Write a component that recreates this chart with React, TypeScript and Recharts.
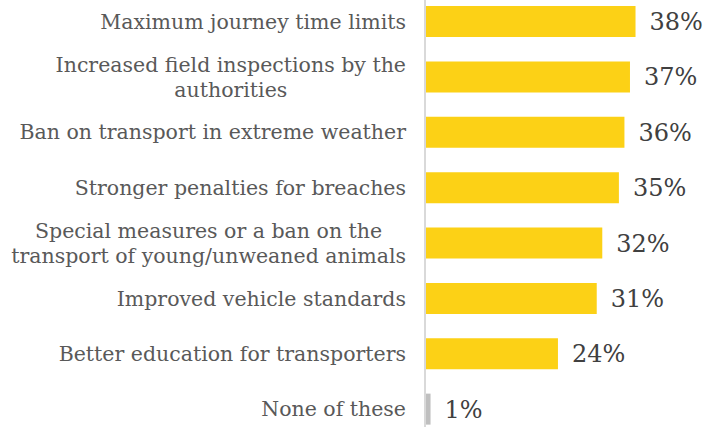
import { BarChart, Bar, XAxis, YAxis, Cell, LabelList } from 'recharts';

const categories = [
  'Maximum journey time limits',
  'Increased field inspections by the\nauthorities',
  'Ban on transport in extreme weather',
  'Stronger penalties for breaches',
  'Special measures or a ban on the\ntransport of young/unweaned animals',
  'Improved vehicle standards',
  'Better education for transporters',
  'None of these',
];
const shares = [38, 37, 36, 35, 32, 31, 24, 1];

const data = categories.map((name, i) => ({ name, value: shares[i] }));

const FONT = "'DejaVu Serif', Georgia, serif";
const LABEL_SIZE = 20.5;
const LINE_H = 25;

let ctx: CanvasRenderingContext2D | null = null;
const measure = (s: string) => {
  if (!ctx) ctx = document.createElement('canvas').getContext('2d');
  if (!ctx) return s.length * 11;
  ctx.font = `${LABEL_SIZE}px ${FONT}`;
  return ctx.measureText(s).width;
};

// multi-line labels: block is right aligned, lines centred inside it
const CategoryTick = ({ x, y, payload }: any) => {
  const lines: string[] = String(payload.value).split('\n');
  const w = Math.max(...lines.map(measure));
  const cx = x - w / 2;
  const first = -((lines.length - 1) * LINE_H) / 2;
  return (
    <text
      x={cx}
      y={y}
      textAnchor="middle"
      fill="#595959"
      fontSize={LABEL_SIZE}
      fontFamily={FONT}
    >
      {lines.map((l, i) => (
        <tspan key={i} x={cx} dy={i === 0 ? first : LINE_H} dominantBaseline="central">
          {l}
        </tspan>
      ))}
    </text>
  );
};

export default function App() {
  return (
    <div style={{ position: 'absolute', left: 0, top: -6 }}>
      <BarChart
        width={706}
        height={443}
        data={data}
        layout="vertical"
        margin={{ top: 0, right: 4, bottom: 0, left: 0 }}
        barSize={31}
      >
        <XAxis type="number" domain={[0, 50]} hide />
        <YAxis
          type="category"
          dataKey="name"
          width={425}
          axisLine={{ stroke: '#d9d9d9', strokeWidth: 2 }}
          tickLine={false}
          tick={<CategoryTick />}
          tickMargin={13}
          interval={0}
        />
        <Bar dataKey="value" isAnimationActive={false}>
          {data.map((d) => (
            <Cell key={d.name} fill={d.name === 'None of these' ? '#bfbfbf' : '#fcd116'} />
          ))}
          <LabelList
            dataKey="value"
            position="right"
            offset={14}
            formatter={(v: any) => `${v}%`}
            fill="#404040"
            fontSize={24}
            fontFamily={FONT}
          />
        </Bar>
      </BarChart>
    </div>
  );
}
